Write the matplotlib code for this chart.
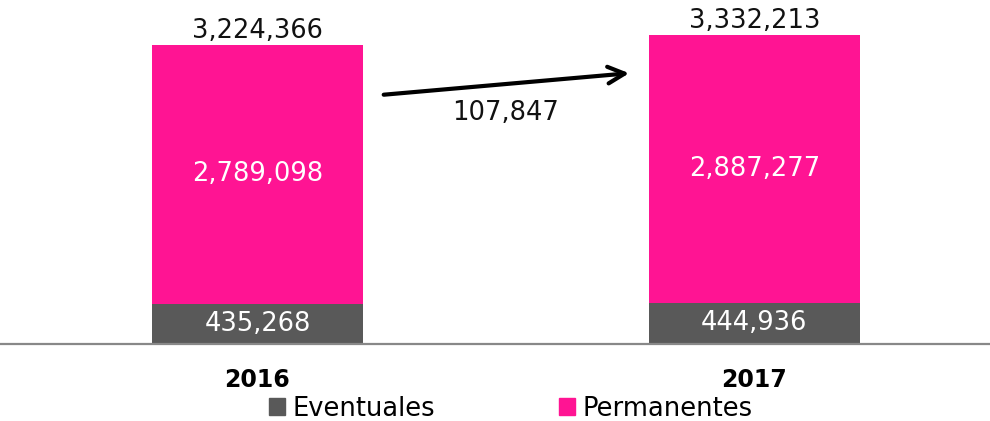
import matplotlib.pyplot as plt
from matplotlib.patches import Patch
import numpy as np

years = ['2016', '2017']
eventuales = [435268, 444936]
permanentes = [2789098, 2887277]
totals = [3224366, 3332213]

plt.rcParams['font.family'] = ['DejaVu Sans']

grey = '#595959'
pink = '#FF1493'

fig = plt.figure(figsize=(9.9, 4.21), dpi=100)
ax = fig.add_axes([0, 0.183, 1, 0.817])

x = np.arange(len(years))
width = 0.4245
ax.bar(x, eventuales, width, color=grey, label='Eventuales')
ax.bar(x, permanentes, width, bottom=eventuales, color=pink, label='Permanentes')

fs = 18.5
for i in range(len(years)):
    ax.text(x[i], eventuales[i] / 2, f'{eventuales[i]:,}', ha='center', va='center',
            color='white', fontsize=fs)
    ax.text(x[i], eventuales[i] + permanentes[i] / 2, f'{permanentes[i]:,}', ha='center',
            va='center', color='white', fontsize=fs)
    ax.annotate(f'{totals[i]:,}', (x[i], totals[i]), xytext=(0, 1), textcoords='offset points',
                ha='center', va='bottom', fontsize=fs, color='#111111')

# flecha de crecimiento
diff = totals[1] - totals[0]
ax.annotate('', xy=(0.7535, 2.922e6), xytext=(0.2485, 2.685e6),
            arrowprops=dict(arrowstyle='->', lw=3, color='black', mutation_scale=30))
ax.text(0.5, 2.49e6, f'{diff:,}', ha='center', va='center', fontsize=fs, color='#111111')

ax.set_xlim(-0.518, 1.474)
ax.set_ylim(0, 3.709e6)
ax.set_xticks(x)
ax.set_xticklabels(years, fontsize=17, fontweight='bold')
ax.tick_params(axis='x', length=0, pad=17, colors='black')
ax.set_yticks([])
for s in ['top', 'left', 'right']:
    ax.spines[s].set_visible(False)
ax.spines['bottom'].set_color('#888888')
ax.spines['bottom'].set_linewidth(1.6)

handles = [Patch(color=grey, label='Eventuales'), Patch(color=pink, label='Permanentes')]
fig.legend(handles=handles, loc='center', bbox_to_anchor=(0.516, 0.029), ncol=2,
           frameon=False, fontsize=fs, handlelength=0.62, handleheight=0.62,
           handletextpad=0.3, columnspacing=4.8, borderpad=0)

fig.savefig('out.png', dpi=100)
